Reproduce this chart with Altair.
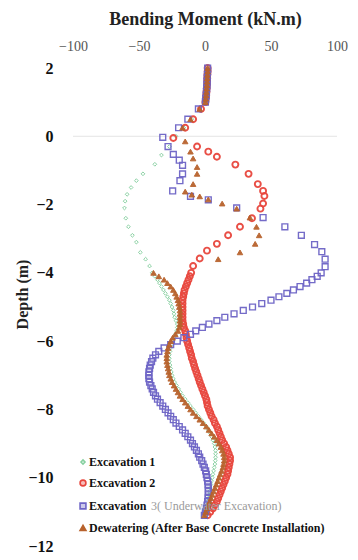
import altair as alt
import pandas as pd

SERIES = [
    "Excavation 1",
    "Excavation 2",
    "Excavation 3( Underwater Excavation)",
    "Dewatering (After Base Concrete Installation)",
]
STROKES = ["#86d0a0", "#e8463d", "#6d64c6", "#b8622c"]
FILLS = ["transparent", "transparent", "transparent", "#b8622c"]
SHAPES = ["diamond", "circle", "square", "triangle-up"]
SIZES = [14, 36, 34, 30]
WIDTHS = [1.0, 1.9, 1.4, 1.0]

# legend text: bold black part and faded remainder
LEGEND_MAIN = ["Excavation 1", "Excavation 2", "Excavation",
               "Dewatering (After Base Concrete Installation)"]
LEGEND_FADED = ["", "", "3( Underwater Excavation)", ""]

X_TICKS = [-100, -50, 0, 50, 100]
Y_TICKS = [2, 0, -2, -4, -6, -8, -10, -12]

# dense node depths (top cantilever and lower embedded part)
DEPTH_TOP = [2.0, 1.9, 1.8, 1.7, 1.6, 1.5, 1.4, 1.3, 1.2, 1.1, 1.0]
DEPTH_LOW = [-4.0, -4.1, -4.2, -4.3, -4.4, -4.5, -4.6, -4.7, -4.8, -4.9,
             -5.0, -5.1, -5.2, -5.3, -5.4, -5.5, -5.6, -5.7, -5.8, -5.9,
             -6.0, -6.1, -6.2, -6.3, -6.4, -6.5, -6.6, -6.7, -6.8, -6.9,
             -7.0, -7.1, -7.2, -7.3, -7.4, -7.5, -7.6, -7.7, -7.8, -7.9,
             -8.0, -8.1, -8.2, -8.3, -8.4, -8.5, -8.6, -8.7, -8.8, -8.9,
             -9.0, -9.1, -9.2, -9.3, -9.4, -9.5, -9.6, -9.7, -9.8, -9.9,
             -10.0, -10.1, -10.2, -10.3, -10.4, -10.5, -10.6, -10.7, -10.8, -10.9,
             -11.0, -11.1]

TOP_MOMENT = [2.0, 2.0, 1.8, 1.7, 1.6, 1.5, 1.3, 1.1, 0.9, 0.6, 0.3]

# Excavation 1
E1_MID_DEPTH = [0.8, 0.5, 0.25, 0.0, -0.3, -0.55, -0.82, -1.1, -1.3, -1.5, -1.7,
                -1.9, -2.1, -2.4, -2.65, -2.9, -3.1, -3.4, -3.6, -3.8]
E1_MID = [-4, -10, -16, -22, -27, -33, -38, -47, -52, -56, -59,
          -60.5, -61, -60, -58, -55, -52, -49, -45, -42]
E1_LOW = [-40, -38, -36, -34.5, -33, -31.5, -30, -28.5, -27, -26,
          -25, -24, -23.5, -23, -22, -21, -21, -21.5, -22.5, -23.5,
          -24.5, -25.5, -26, -26.5, -27, -27, -27, -26.5, -26, -25.5,
          -25, -24, -23, -21.5, -20, -18.5, -17, -15, -13, -11,
          -9, -7, -5, -3, -1, 1, 2.5, 4, 5, 6,
          7, 7.5, 8, 8, 8, 7.8, 7.5, 7, 6.5, 6,
          5.5, 5, 4.5, 4, 3.5, 3, 2.5, 2, 1.5, 1,
          0.5, 0]

# Excavation 2
E2_MID_DEPTH = [0.8, 0.5, 0.25, -0.05, -0.3, -0.45, -0.6, -0.83, -1.1, -1.4, -1.6,
                -1.75, -1.97, -2.12, -2.4, -2.65, -2.9, -3.15, -3.35, -3.58, -3.8]
E2_MID = [-3, -9, -15, -24, -6, 2.5, 9, 23, 33, 40, 44,
          45, 44, 42, 35.6, 26.5, 17.5, 9, 1.5, -4, -9]
E2_LOW = [-10.5, -11.5, -12.5, -13.5, -14.5, -15.5, -16, -16.5, -17, -17,
          -17, -17, -17, -17, -17, -16.5, -16, -15, -14.5, -14,
          -13.5, -12.8, -12, -11.3, -10.5, -10, -9, -8.3, -7.5, -6.6,
          -5.7, -4.8, -4, -3, -2, -1, 0, 1, 1.5, 2,
          3, 4, 5, 6.5, 7.5, 9, 10, 11, 12, 13,
          14.5, 16, 17, 18, 19, 19, 18.5, 18, 17.5, 17,
          16, 15, 14, 13, 12, 11, 10, 9, 7.5, 6,
          4, 2]

# Excavation 3 (underwater excavation)
E3_MID_DEPTH = [0.8, 0.5, 0.25, -0.03, -0.3, -0.53, -0.7, -0.85, -1.1, -1.3, -1.6,
                -1.76, -1.86, -2.1, -2.38, -2.65, -2.9, -3.17, -3.38, -3.6, -3.82]
E3_MID = [-5, -13, -20, -32, -28, -24, -19.5, -17, -17, -19, -24.5,
          -11, 2.5, 24, 44, 60.5, 73, 83, 88.5, 91, 91]
E3_LOW = [88, 85, 81, 77, 72, 67, 62, 56, 50, 43,
          36, 29, 22, 15, 9, 3, -2, -7, -11, -16,
          -21, -26, -31, -35, -37.5, -39.5, -40.5, -41.5, -42, -42.5,
          -42.5, -42.5, -42, -41, -40, -39, -37.5, -36, -34, -32,
          -30, -28, -26, -24, -22, -19.5, -17, -15, -13, -11,
          -9.5, -8, -6.5, -5, -4, -2.5, -1.5, -0.5, 0.5, 1,
          1.5, 2, 2.3, 2.5, 2.5, 2.5, 2.3, 2, 1.5, 1,
          0.3, -0.5]

# Dewatering (after base concrete installation)
DW_MID_DEPTH = [0.8, 0.5, 0.25, -0.15, -0.45, -0.65, -0.9, -1.1, -1.4, -1.62,
                -1.71, -1.76, -1.85, -1.97, -2.12, -2.38, -2.65, -2.9, -3.15, -3.4, -3.6]
DW_MID = [-4, -11, -17, -15, -11, -9, -6, -6, -9, -15,
          -10, -4, 2.5, 13, 24, 34, 39, 41, 38, 26.5, 10]
DW_LOW = [-39, -35, -31, -28.5, -26, -24, -22.5, -21.5, -20.5, -20,
          -19.5, -19, -19, -19, -19, -19, -19.5, -20.5, -22.5, -24.5,
          -26, -27, -28, -28.5, -29, -29, -29, -28.5, -28, -27.5,
          -27, -26, -25, -23.5, -22, -20.5, -19, -17, -15, -13,
          -11, -9, -6.5, -4, -1.5, 1, 3, 5, 7, 9,
          10.5, 12, 13, 14, 14.5, 14.5, 14, 13.5, 12.5, 11.5,
          10.5, 9.5, 8.5, 7.5, 6.5, 5.5, 4.5, 3.5, 2.5, 1.5,
          0.5, -0.5]

parts = [
    (E1_MID_DEPTH, E1_MID, E1_LOW),
    (E2_MID_DEPTH, E2_MID, E2_LOW),
    (E3_MID_DEPTH, E3_MID, E3_LOW),
    (DW_MID_DEPTH, DW_MID, DW_LOW),
]

FONT = "Liberation Serif"
XS = alt.Scale(domain=[-100, 100], nice=False)
YS = alt.Scale(domain=[-12, 2], nice=False)

x_axis = alt.Axis(
    orient="top", values=X_TICKS, title="Bending Moment (kN.m)",
    domain=False, ticks=False, grid=False, labelFlush=False,
    labelFont=FONT, labelFontSize=14, labelColor="#555555",
    labelPadding=15,
    titleFont=FONT, titleFontSize=18, titleFontWeight="bold",
    titleColor="#222222", titlePadding=11,
)
y_axis = alt.Axis(
    values=Y_TICKS, title="Depth (m)", domain=False, ticks=False, grid=False,
    labelFlush=False,
    labelFont=FONT, labelFontSize=16, labelFontWeight="bold",
    labelColor="#111111", labelPadding=20,
    titleFont=FONT, titleFontSize=16, titleFontWeight="bold",
    titleColor="#222222", titleX=-51, titleY=226, titleAngle=-90,
    titleAlign="center", titleBaseline="middle",
)

zero_line = alt.Chart(pd.DataFrame({"z": [0]})).mark_rule(
    color="#e4e4e4", strokeWidth=1
).encode(y=alt.Y("z:Q", scale=YS, axis=y_axis))

layers = [zero_line]
for i, (name, (mid_d, mid_m, low_m)) in enumerate(zip(SERIES, parts)):
    sdf = pd.DataFrame({
        "depth": DEPTH_TOP + mid_d + DEPTH_LOW,
        "moment": TOP_MOMENT + mid_m + low_m,
    })
    layers.append(
        alt.Chart(sdf).mark_point(
            shape=SHAPES[i], size=SIZES[i], stroke=STROKES[i], fill=FILLS[i],
            strokeWidth=WIDTHS[i], opacity=0.95,
        ).encode(
            x=alt.X("moment:Q", scale=XS, axis=x_axis),
            y=alt.Y("depth:Q", scale=YS, axis=y_axis),
        )
    )

# manual legend (inside plot, lower left)
LEG_X_SYM = 10
LEG_X_TXT = 16
LEG_ROWS_Y = [394, 415, 438, 460]
for i in range(len(SERIES)):
    one = pd.DataFrame({"main": [LEGEND_MAIN[i]], "faded": [LEGEND_FADED[i]]})
    layers.append(
        alt.Chart(one).mark_point(
            shape=SHAPES[i], size=34 if i else 16, stroke=STROKES[i],
            fill=STROKES[i] if i in (1, 2) else FILLS[i],
            fillOpacity=0.35 if i in (1, 2) else 1, strokeWidth=1.6,
        ).encode(x=alt.value(LEG_X_SYM), y=alt.value(LEG_ROWS_Y[i]))
    )
    layers.append(
        alt.Chart(one).mark_text(
            font=FONT, fontSize=12, fontWeight="bold", color="#111111",
            align="left", baseline="middle",
        ).encode(text="main:N", x=alt.value(LEG_X_TXT), y=alt.value(LEG_ROWS_Y[i]))
    )
    if LEGEND_FADED[i]:
        layers.append(
            alt.Chart(one).mark_text(
                font=FONT, fontSize=12, color="#9a9a9a",
                align="left", baseline="middle",
            ).encode(text="faded:N", x=alt.value(LEG_X_TXT + 62),
                     y=alt.value(LEG_ROWS_Y[i]))
        )

chart = alt.layer(*layers).properties(
    width=264,
    height=478,
    autosize=alt.AutoSizeParams(type="none"),
    padding={"left": 65, "top": 60, "right": 13, "bottom": 10},
).configure_view(stroke=None)

chart.save("out.html", embed_options={"renderer": "svg", "actions": False})
